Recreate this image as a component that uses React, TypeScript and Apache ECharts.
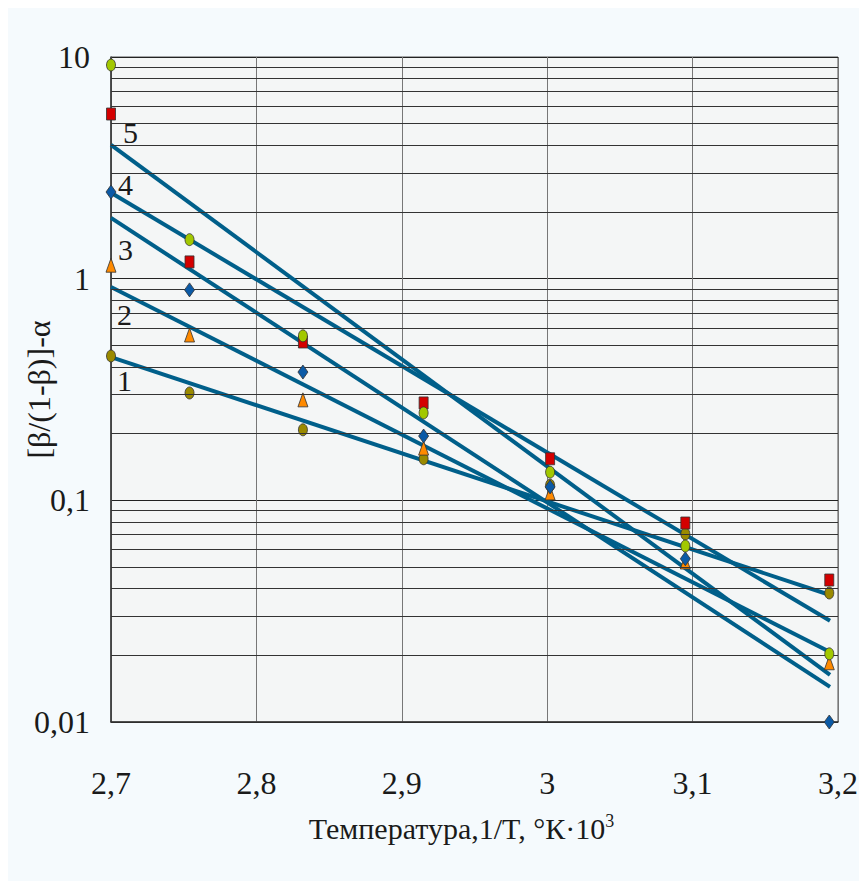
import React, { useEffect, useRef } from "react";
import * as echarts from "echarts";

// 1/T * 10^3 positions of the measurements
const xValues = [2.7, 2.754, 2.832, 2.915, 3.002, 3.095, 3.194];

// measured points (5 data sets)
const set5Lime = [9.2, 1.5, 0.552, 0.248, 0.134, 0.0622, 0.0203];
const set4Red = [5.53, 1.19, 0.518, 0.275, 0.154, 0.079, 0.0437];
const set3Diamond = [2.46, 0.89, 0.379, 0.195, 0.115, 0.0545, 0.01];
const set2Triangle = [1.15, 0.557, 0.284, 0.172, 0.108, 0.0527, 0.0185];
const set1Olive = [0.448, 0.305, 0.208, 0.154, 0.117, 0.0705, 0.0382];

// fitted straight lines (start / end)
const fitX = [2.7, 3.1945];
const fit5 = [4.01, 0.0163];
const fit4 = [2.44, 0.0286];
const fit3 = [1.88, 0.0144];
const fit2 = [0.917, 0.0207];
const fit1 = [0.443, 0.0374];
const fitNames = ["5", "4", "3", "2", "1"];

// minor horizontal grid lines of the log axis
const minorMultipliers = [2, 3, 4, 5, 6, 7, 8, 9];
const decades = [0.01, 0.1, 1];
const minorGrid = decades.flatMap((d) => minorMultipliers.map((m) => +(m * d).toPrecision(2)));

const FONT = "Liberation Serif";
const LINE_COLOR = "#005f8a";

function pairs(xs: number[], ys: number[]) {
  return xs.map((x, i) => [x, ys[i]]);
}

export default function App() {
  const ref = useRef<HTMLDivElement>(null);
  useEffect(() => {
    document.documentElement.style.overflow = "hidden";
    const chart = echarts.init(ref.current!, undefined, { renderer: "svg" });

    const fits = [fit5, fit4, fit3, fit2, fit1];
    const labelOffsets: [number, number][] = [
      [12, -12],
      [7, -8],
      [7, 32],
      [6, 27],
      [6, 23],
    ];

    const lineSeries = fits.map((f, i) => ({
      type: "line",
      name: "fit " + fitNames[i],
      z: 2,
      symbol: "circle",
      symbolSize: 0.1,
      showSymbol: true,
      itemStyle: { color: LINE_COLOR },
      lineStyle: { color: LINE_COLOR, width: 4 },
      data: [
        {
          value: [fitX[0], f[0]],
          label: {
            show: true,
            formatter: fitNames[i],
            position: "right",
            distance: 0,
            offset: labelOffsets[i],
            fontFamily: FONT,
            fontSize: 30,
            color: "#1a1a1a",
          },
        },
        { value: [fitX[1], f[1]] },
      ],
    }));

    const scatterDefs = [
      { name: "1", data: set1Olive, symbol: "circle", size: [9, 12], color: "#9a8a00" },
      { name: "2", data: set2Triangle, symbol: "triangle", size: [10, 14], color: "#ff8a00" },
      { name: "3", data: set3Diamond, symbol: "diamond", size: [10, 14], color: "#0b5aa6" },
      { name: "4", data: set4Red, symbol: "rect", size: [9, 12], color: "#d40000" },
      { name: "5", data: set5Lime, symbol: "circle", size: [9, 12], color: "#a2c800" },
    ];
    const scatterSeries = scatterDefs.map((s, i) => ({
      type: "scatter",
      name: "set " + s.name,
      z: 3 + i,
      symbol: s.symbol,
      symbolSize: s.size,
      itemStyle: { color: s.color, borderColor: "#333", borderWidth: 0.8, opacity: 1 },
      data: pairs(xValues, s.data),
    }));

    const gridSeries = {
      type: "scatter",
      name: "grid",
      z: 1,
      silent: true,
      data: [],
      markLine: {
        silent: true,
        symbol: ["none", "none"],
        label: { show: false },
        lineStyle: { color: "#333", width: 1, type: "solid" },
        emphasis: { disabled: true },
        data: minorGrid.map((v) => ({ yAxis: v })),
      },
    };

    chart.setOption({
      animation: false,
      backgroundColor: "#f5fafd",
      grid: {
        left: 103,
        top: 49,
        width: 727,
        height: 665,
        outerBoundsMode: "none",
        containLabel: false,
        show: true,
        backgroundColor: "#f4f6f6",
        borderColor: "#555",
        borderWidth: 1,
      },
      xAxis: {
        type: "value",
        min: 2.7,
        max: 3.2,
        interval: 0.1,
        axisLine: { show: true, lineStyle: { color: "#333", width: 1.5 } },
        axisTick: { show: false },
        splitLine: { show: true, lineStyle: { color: "#777", width: 1 } },
        axisLabel: {
          margin: 45,
          fontFamily: FONT,
          fontSize: 32,
          color: "#1a1a1a",
          formatter: (v: number) => String(Math.round(v * 10) / 10).replace(".", ","),
        },
        name: "Температура,1/T, °К·10{sup|3}",
        nameLocation: "middle",
        nameGap: 90,
        nameMoveOverlap: false,
        nameTextStyle: {
          fontFamily: FONT,
          fontSize: 30,
          color: "#1a1a1a",
          padding: [0, 26, 0, 0],
          rich: {
            sup: { fontFamily: FONT, fontSize: 18, color: "#1a1a1a", verticalAlign: "top", padding: [0, 0, 14, 0] },
          },
        },
      },
      yAxis: {
        type: "log",
        logBase: 10,
        min: 0.01,
        max: 10,
        axisLine: { show: true, lineStyle: { color: "#333", width: 1.5 } },
        axisTick: { show: false },
        splitLine: { show: true, lineStyle: { color: "#222", width: 1 } },
        axisLabel: {
          margin: 21,
          fontFamily: FONT,
          fontSize: 32,
          color: "#1a1a1a",
          formatter: (v: number) => String(parseFloat(v.toPrecision(2))).replace(".", ","),
        },
        name: "[β/(1-β)]-α",
        nameLocation: "middle",
        nameRotate: 90,
        nameGap: 56,
        nameMoveOverlap: false,
        nameTextStyle: { fontFamily: FONT, fontSize: 32, color: "#1a1a1a" },
      },
      series: [gridSeries, ...lineSeries, ...scatterSeries],
    });
    return () => chart.dispose();
  }, []);
  return <div ref={ref} style={{ width: 859, height: 873 }} />;
}
